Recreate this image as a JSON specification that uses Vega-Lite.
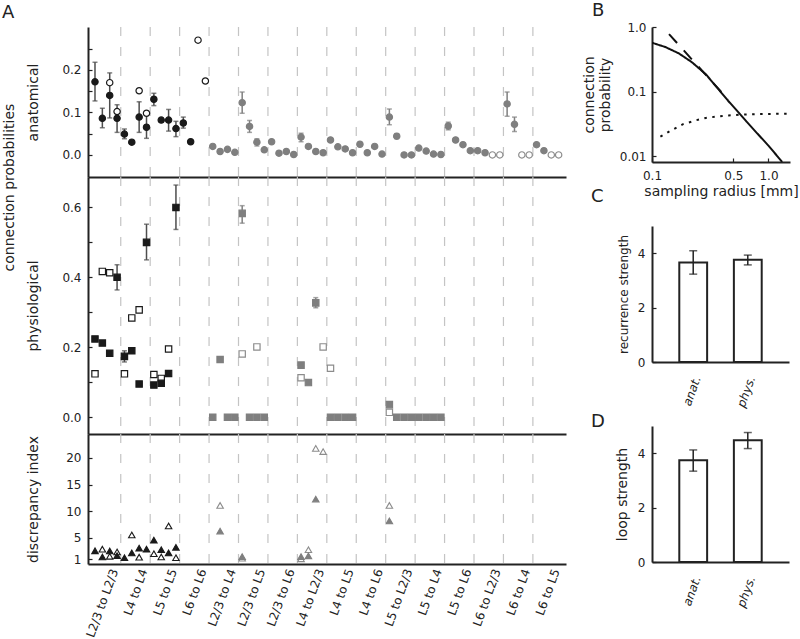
{
  "$schema": "https://vega.github.io/schema/vega-lite/v6.json",
  "background": "white",
  "padding": {"left": 2, "top": 2, "right": 0, "bottom": 0},
  "spacing": 16,
  "datasets": {
    "seps": [{"s":3.5},{"s":7.5},{"s":11.5},{"s":15.5},{"s":19.5},{"s":23.5},{"s":27.5},{"s":31.5},{"s":35.5},{"s":39.5},{"s":43.5},{"s":47.5},{"s":51.5},{"s":55.5},{"s":59.5}],
    "anat": [
      {"s":2,"v":0.170,"k":"bo"},{"s":3,"v":0.102,"k":"bo"},{"s":6,"v":0.151,"k":"bo"},{"s":7,"v":0.098,"k":"bo"},{"s":14,"v":0.270,"k":"bo"},{"s":15,"v":0.174,"k":"bo"},
      {"s":54,"v":0,"k":"go"},{"s":55,"v":0,"k":"go"},{"s":58,"v":0,"k":"go"},{"s":59,"v":0,"k":"go"},{"s":62,"v":0,"k":"go"},{"s":63,"v":0,"k":"go"},
      {"s":0,"v":0.172,"lo":0.127,"hi":0.218,"k":"bf"},{"s":1,"v":0.086,"lo":0.064,"hi":0.110,"k":"bf"},{"s":2,"v":0.140,"lo":0.087,"hi":0.193,"k":"bf"},{"s":3,"v":0.086,"lo":0.053,"hi":0.118,"k":"bf"},
      {"s":4,"v":0.049,"lo":0.038,"hi":0.061,"k":"bf"},{"s":5,"v":0.030,"k":"bf"},{"s":6,"v":0.089,"lo":0.053,"hi":0.125,"k":"bf"},{"s":7,"v":0.065,"lo":0.039,"hi":0.097,"k":"bf"},
      {"s":8,"v":0.131,"lo":0.116,"hi":0.145,"k":"bf"},{"s":9,"v":0.082,"lo":0.077,"hi":0.087,"k":"bf"},{"s":10,"v":0.082,"lo":0.056,"hi":0.107,"k":"bf"},{"s":11,"v":0.062,"lo":0.043,"hi":0.079,"k":"bf"},
      {"s":12,"v":0.075,"lo":0.063,"hi":0.089,"k":"bf"},{"s":13,"v":0.031,"k":"bf"},
      {"s":16,"v":0.020,"k":"gf"},{"s":17,"v":0.008,"k":"gf"},{"s":18,"v":0.013,"k":"gf"},{"s":19,"v":0.006,"k":"gf"},
      {"s":20,"v":0.123,"lo":0.098,"hi":0.148,"k":"gf"},{"s":21,"v":0.067,"lo":0.053,"hi":0.081,"k":"gf"},{"s":22,"v":0.030,"lo":0.021,"hi":0.038,"k":"gf"},{"s":23,"v":0.012,"k":"gf"},
      {"s":24,"v":0.031,"k":"gf"},{"s":25,"v":0.004,"k":"gf"},{"s":26,"v":0.008,"k":"gf"},{"s":27,"v":0.001,"k":"gf"},
      {"s":28,"v":0.042,"lo":0.031,"hi":0.051,"k":"gf"},{"s":29,"v":0.020,"k":"gf"},{"s":30,"v":0.008,"k":"gf"},{"s":31,"v":0.005,"k":"gf"},
      {"s":32,"v":0.035,"k":"gf"},{"s":33,"v":0.019,"k":"gf"},{"s":34,"v":0.014,"k":"gf"},{"s":35,"v":0.005,"k":"gf"},
      {"s":36,"v":0.025,"k":"gf"},{"s":37,"v":0.005,"k":"gf"},{"s":38,"v":0.020,"k":"gf"},{"s":39,"v":0.002,"k":"gf"},
      {"s":40,"v":0.089,"lo":0.071,"hi":0.108,"k":"gf"},{"s":41,"v":0.044,"lo":0.038,"hi":0.050,"k":"gf"},{"s":42,"v":0.000,"k":"gf"},{"s":43,"v":0.000,"k":"gf"},
      {"s":44,"v":0.016,"k":"gf"},{"s":45,"v":0.009,"k":"gf"},{"s":46,"v":0.002,"k":"gf"},{"s":47,"v":0.001,"k":"gf"},
      {"s":48,"v":0.068,"lo":0.059,"hi":0.077,"k":"gf"},{"s":49,"v":0.035,"k":"gf"},{"s":50,"v":0.024,"k":"gf"},{"s":51,"v":0.010,"k":"gf"},
      {"s":52,"v":0.010,"k":"gf"},{"s":53,"v":0.005,"k":"gf"},
      {"s":56,"v":0.120,"lo":0.091,"hi":0.148,"k":"gf"},{"s":57,"v":0.072,"lo":0.055,"hi":0.089,"k":"gf"},
      {"s":60,"v":0.024,"k":"gf"},{"s":61,"v":0.010,"k":"gf"}
    ],
    "phys": [
      {"s":0,"v":0.124,"k":"bo"},{"s":1,"v":0.417,"k":"bo"},{"s":2,"v":0.413,"k":"bo"},{"s":4,"v":0.124,"k":"bo"},{"s":5,"v":0.284,"k":"bo"},{"s":6,"v":0.307,"k":"bo"},{"s":8,"v":0.122,"k":"bo"},{"s":9,"v":0.111,"k":"bo"},{"s":10,"v":0.195,"k":"bo"},
      {"s":20,"v":0.181,"k":"go"},{"s":22,"v":0.201,"k":"go"},{"s":28,"v":0.113,"k":"go"},{"s":31,"v":0.201,"k":"go"},{"s":32,"v":0.140,"k":"go"},{"s":40,"v":0.014,"k":"go"},
      {"s":0,"v":0.224,"k":"bf"},{"s":1,"v":0.212,"k":"bf"},{"s":2,"v":0.183,"k":"bf"},{"s":3,"v":0.400,"lo":0.364,"hi":0.436,"k":"bf"},{"s":4,"v":0.174,"lo":0.158,"hi":0.190,"k":"bf"},{"s":5,"v":0.190,"k":"bf"},
      {"s":6,"v":0.095,"k":"bf"},{"s":7,"v":0.500,"lo":0.450,"hi":0.552,"k":"bf"},{"s":8,"v":0.092,"k":"bf"},{"s":9,"v":0.097,"k":"bf"},{"s":10,"v":0.125,"k":"bf"},{"s":11,"v":0.600,"lo":0.537,"hi":0.664,"k":"bf"},
      {"s":16,"v":0,"k":"gf"},{"s":17,"v":0.165,"k":"gf"},{"s":18,"v":0,"k":"gf"},{"s":19,"v":0,"k":"gf"},{"s":20,"v":0.583,"lo":0.555,"hi":0.605,"k":"gf"},{"s":21,"v":0,"k":"gf"},{"s":22,"v":0,"k":"gf"},{"s":23,"v":0,"k":"gf"},
      {"s":28,"v":0.149,"k":"gf"},{"s":29,"v":0.099,"k":"gf"},{"s":30,"v":0.327,"lo":0.313,"hi":0.342,"k":"gf"},{"s":32,"v":0,"k":"gf"},{"s":33,"v":0,"k":"gf"},{"s":34,"v":0,"k":"gf"},{"s":35,"v":0,"k":"gf"},
      {"s":40,"v":0.036,"k":"gf"},{"s":41,"v":0,"k":"gf"},{"s":42,"v":0,"k":"gf"},{"s":43,"v":0,"k":"gf"},{"s":44,"v":0,"k":"gf"},{"s":45,"v":0,"k":"gf"},{"s":46,"v":0,"k":"gf"},{"s":47,"v":0,"k":"gf"}
    ],
    "disc": [
      {"s":1,"v":2.9,"k":"bo"},{"s":2,"v":1.56,"k":"bo"},{"s":3,"v":2.37,"k":"bo"},{"s":5,"v":5.56,"k":"bo"},{"s":6,"v":1.4,"k":"bo"},{"s":8,"v":2.05,"k":"bo"},{"s":9,"v":1.43,"k":"bo"},{"s":10,"v":7.25,"k":"bo"},{"s":11,"v":1.3,"k":"bo"},
      {"s":17,"v":11.1,"k":"go"},{"s":20,"v":1.2,"k":"go"},{"s":28,"v":1.1,"k":"go"},{"s":29,"v":2.8,"k":"go"},{"s":30,"v":21.8,"k":"go"},{"s":31,"v":21.2,"k":"go"},{"s":40,"v":11.1,"k":"go"},
      {"s":0,"v":2.6,"k":"bf"},{"s":1,"v":1.43,"k":"bf"},{"s":2,"v":2.56,"k":"bf"},{"s":3,"v":1.68,"k":"bf"},{"s":4,"v":1.3,"k":"bf"},{"s":5,"v":2.2,"k":"bf"},{"s":6,"v":3.1,"k":"bf"},{"s":7,"v":2.9,"k":"bf"},{"s":8,"v":4.6,"k":"bf"},{"s":9,"v":2.8,"k":"bf"},{"s":10,"v":2.2,"k":"bf"},{"s":11,"v":3.25,"k":"bf"},
      {"s":17,"v":6.3,"k":"gf"},{"s":20,"v":1.5,"k":"gf"},{"s":28,"v":1.5,"k":"gf"},{"s":29,"v":1.65,"k":"gf"},{"s":30,"v":12.3,"k":"gf"},{"s":40,"v":8.2,"k":"gf"}
    ],
    "curves": [
      {"kind":"solid","r":0.10,"p":0.57},{"kind":"solid","r":0.13,"p":0.49},{"kind":"solid","r":0.17,"p":0.39},{"kind":"solid","r":0.22,"p":0.285},{"kind":"solid","r":0.29,"p":0.185},{"kind":"solid","r":0.37,"p":0.11},{"kind":"solid","r":0.45,"p":0.072},{"kind":"solid","r":0.55,"p":0.048},{"kind":"solid","r":0.65,"p":0.034},{"kind":"solid","r":0.8,"p":0.0225},{"kind":"solid","r":1.0,"p":0.0145},{"kind":"solid","r":1.2,"p":0.0098},{"kind":"solid","r":1.31,"p":0.0081},
      {"kind":"dashed","r":0.14,"p":0.776},{"kind":"dashed","r":0.45,"p":0.075},
      {"kind":"dotted","r":0.118,"p":0.020},{"kind":"dotted","r":0.14,"p":0.024},{"kind":"dotted","r":0.183,"p":0.031},{"kind":"dotted","r":0.24,"p":0.036},{"kind":"dotted","r":0.29,"p":0.039},{"kind":"dotted","r":0.36,"p":0.041},{"kind":"dotted","r":0.455,"p":0.0426},{"kind":"dotted","r":0.6,"p":0.044},{"kind":"dotted","r":0.77,"p":0.0447},{"kind":"dotted","r":1.0,"p":0.045},{"kind":"dotted","r":1.5,"p":0.0453}
    ],
    "bars": [
      {"p":"C","g":"anat.","v":3.66,"lo":3.23,"hi":4.09},{"p":"C","g":"phys.","v":3.76,"lo":3.57,"hi":3.93},
      {"p":"D","g":"anat.","v":3.74,"lo":3.34,"hi":4.12},{"p":"D","g":"phys.","v":4.48,"lo":4.17,"hi":4.76}
    ]
  },
  "hconcat": [
    {
      "vconcat": [
        {
          "width": 478, "height": 150,
          "title": {"text": "A", "anchor": "start", "frame": "group", "dx": -86, "baseline": "alphabetic", "offset": -10},
          "encoding": {"x": {"field": "s", "type": "quantitative", "scale": {"domain": [-0.95, 64], "nice": false, "zero": false}, "axis": {"labels": false, "ticks": false, "title": null}}},
          "layer": [
            {"data": {"name": "seps"}, "mark": {"type": "rule", "color": "#c4c4c4", "strokeDash": [9, 11], "strokeWidth": 1.2}, "encoding": {}},
            {"data": {"name": "anat"}, "transform": [{"filter": "isValid(datum.lo)"}],
             "mark": {"type": "errorbar", "ticks": {"size": 5}, "thickness": 1.5},
             "encoding": {
               "y": {"field": "lo", "type": "quantitative", "scale": {"domain": [-0.052, 0.301], "nice": false, "zero": false}, "axis": {"values": [0, 0.05, 0.1, 0.15, 0.2, 0.25], "labelExpr": "round(datum.value*100)%10==0 ? format(datum.value,'.1f') : ''", "title": "anatomical", "titleX": -48, "titleBaseline": "bottom", "tickSize": -4, "labelPadding": 11}},
               "y2": {"field": "hi"},
               "color": {"field": "k", "type": "nominal", "scale": {"domain": ["bf", "gf"], "range": ["#4d4d4d", "#7f7f7f"]}, "legend": null}
             }},
            {"data": {"name": "anat"},
             "mark": {"type": "point", "shape": "circle", "filled": true, "size": 40, "strokeWidth": 1.2, "opacity": 1},
             "encoding": {
               "y": {"field": "v", "type": "quantitative", "scale": {"domain": [-0.052, 0.301], "nice": false, "zero": false}, "axis": {"values": [0, 0.05, 0.1, 0.15, 0.2, 0.25], "labelExpr": "round(datum.value*100)%10==0 ? format(datum.value,'.1f') : ''", "title": "anatomical", "titleX": -48, "titleBaseline": "bottom", "tickSize": -4, "labelPadding": 11}},
               "fill": {"field": "k", "type": "nominal", "scale": {"domain": ["bf", "bo", "gf", "go"], "range": ["#1a1a1a", "#ffffff", "#7f7f7f", "#ffffff"]}, "legend": null},
               "stroke": {"field": "k", "type": "nominal", "scale": {"domain": ["bf", "bo", "gf", "go"], "range": ["#1a1a1a", "#1a1a1a", "#7f7f7f", "#8c8c8c"]}, "legend": null}
             }}
          ]
        },
        {
          "width": 478, "height": 257,
          "title": {"text": "connection probabilities", "orient": "left", "anchor": "middle", "offset": 9, "dx": 118, "fontSize": 14},
          "encoding": {"x": {"field": "s", "type": "quantitative", "scale": {"domain": [-0.95, 64], "nice": false, "zero": false}, "axis": {"labels": false, "ticks": false, "title": null}}},
          "layer": [
            {"data": {"name": "seps"}, "mark": {"type": "rule", "color": "#c4c4c4", "strokeDash": [9, 11], "strokeWidth": 1.2}, "encoding": {}},
            {"data": {"name": "phys"}, "transform": [{"filter": "isValid(datum.lo)"}],
             "mark": {"type": "errorbar", "ticks": {"size": 5}, "thickness": 1.5},
             "encoding": {
               "y": {"field": "lo", "type": "quantitative", "scale": {"domain": [-0.048, 0.687], "nice": false, "zero": false}, "axis": {"values": [0, 0.1, 0.2, 0.3, 0.4, 0.5, 0.6], "labelExpr": "round(datum.value*10)%2==0 ? format(datum.value,'.1f') : ''", "title": "physiological", "titleX": -48, "titleBaseline": "bottom", "tickSize": -4, "labelPadding": 11}},
               "y2": {"field": "hi"},
               "color": {"field": "k", "type": "nominal", "scale": {"domain": ["bf", "gf"], "range": ["#4d4d4d", "#7f7f7f"]}, "legend": null}
             }},
            {"data": {"name": "phys"},
             "mark": {"type": "point", "shape": "square", "filled": true, "size": 40, "strokeWidth": 1.2, "opacity": 1},
             "encoding": {
               "y": {"field": "v", "type": "quantitative", "scale": {"domain": [-0.048, 0.687], "nice": false, "zero": false}, "axis": {"values": [0, 0.1, 0.2, 0.3, 0.4, 0.5, 0.6], "labelExpr": "round(datum.value*10)%2==0 ? format(datum.value,'.1f') : ''", "title": "physiological", "titleX": -48, "titleBaseline": "bottom", "tickSize": -4, "labelPadding": 11}},
               "fill": {"field": "k", "type": "nominal", "scale": {"domain": ["bf", "bo", "gf", "go"], "range": ["#1a1a1a", "#ffffff", "#7f7f7f", "#ffffff"]}, "legend": null},
               "stroke": {"field": "k", "type": "nominal", "scale": {"domain": ["bf", "bo", "gf", "go"], "range": ["#1a1a1a", "#1a1a1a", "#7f7f7f", "#8c8c8c"]}, "legend": null}
             }}
          ]
        },
        {
          "width": 478, "height": 130,
          "encoding": {"x": {"field": "s", "type": "quantitative", "scale": {"domain": [-0.95, 64], "nice": false, "zero": false},
            "axis": {"values": [1.5, 5.5, 9.5, 13.5, 17.5, 21.5, 25.5, 29.5, 33.5, 37.5, 41.5, 45.5, 49.5, 53.5, 57.5, 61.5], "labelExpr": "['L2/3 to L2/3','L4 to L4','L5 to L5','L6 to L6','L2/3 to L4','L2/3 to L5','L2/3 to L6','L4 to L2/3','L4 to L5','L4 to L6','L5 to L2/3','L5 to L4','L5 to L6','L6 to L2/3','L6 to L4','L6 to L5'][round((datum.value-1.5)/4)]", "labelAngle": -70, "labelAlign": "right", "labelBaseline": "middle", "labelOffset": 8, "labelPadding": 5, "ticks": false, "title": null, "labelLimit": 0}}},
          "layer": [
            {"data": {"name": "seps"}, "mark": {"type": "rule", "color": "#c4c4c4", "strokeDash": [9, 11], "strokeWidth": 1.2}, "encoding": {}},
            {"data": {"name": "disc"},
             "mark": {"type": "point", "shape": "triangle-up", "filled": true, "size": 42, "strokeWidth": 1.1, "opacity": 1},
             "encoding": {
               "y": {"field": "v", "type": "quantitative", "scale": {"domain": [0.12, 24.5], "nice": false, "zero": false}, "axis": {"values": [1, 5, 10, 15, 20], "format": "d", "title": "discrepancy index", "titleX": -48, "titleBaseline": "bottom", "tickSize": -4, "labelPadding": 11}},
               "fill": {"field": "k", "type": "nominal", "scale": {"domain": ["bf", "bo", "gf", "go"], "range": ["#1a1a1a", "#ffffff", "#7f7f7f", "#ffffff"]}, "legend": null},
               "stroke": {"field": "k", "type": "nominal", "scale": {"domain": ["bf", "bo", "gf", "go"], "range": ["#1a1a1a", "#1a1a1a", "#7f7f7f", "#8c8c8c"]}, "legend": null}
             }}
          ]
        }
      ],
      "spacing": 0,
      "bounds": "flush"
    },
    {
      "vconcat": [
        {
          "width": 138, "height": 135,
          "title": {"text": "B", "anchor": "start", "frame": "group", "dx": -60, "baseline": "alphabetic", "offset": -13},
          "data": {"name": "curves"},
          "mark": {"type": "line", "color": "#111111", "strokeWidth": 2, "clip": true},
          "encoding": {
            "x": {"field": "r", "type": "quantitative", "scale": {"type": "log", "domain": [0.1, 1.53], "nice": false}, "axis": {"values": [0.1, 0.5, 1], "labelExpr": "datum.value==1 ? '1.0' : format(datum.value,'.1f')", "title": "sampling radius [mm]", "tickSize": -4, "labelPadding": 12, "titlePadding": 3}},
            "y": {"field": "p", "type": "quantitative", "scale": {"type": "log", "domain": [0.0081, 1], "nice": false}, "axis": {"values": [0.01, 0.1, 1], "labelExpr": "datum.value==1 ? '1.0' : (datum.value==0.1 ? '0.1' : '0.01')", "title": ["connection", "probability"], "titleX": -56, "titleBaseline": "bottom", "titleLineHeight": 16, "tickSize": -4, "labelPadding": 10}},
            "strokeDash": {"field": "kind", "type": "nominal", "scale": {"domain": ["solid", "dashed", "dotted"], "range": [[1, 0], [12, 10], [2.5, 5.5]]}, "legend": null}
          }
        },
        {
          "width": 137, "height": 136,
          "title": {"text": "C", "anchor": "start", "frame": "group", "dx": -61, "baseline": "alphabetic", "offset": 6},
          "data": {"name": "bars"},
          "transform": [{"filter": "datum.p=='C'"}],
          "encoding": {"x": {"field": "g", "type": "nominal", "sort": ["anat.", "phys."], "scale": {"paddingInner": 0.49, "paddingOuter": 0.5}, "axis": {"labelAngle": -70, "labelAlign": "right", "labelBaseline": "middle", "labelFontStyle": "italic", "labelOffset": 4, "labelPadding": 18, "tickSize": -4, "title": null}}},
          "layer": [
            {"mark": {"type": "bar", "fill": "white", "stroke": "#222222", "strokeWidth": 2},
             "encoding": {"y": {"field": "v", "type": "quantitative", "scale": {"domain": [0, 5], "nice": false}, "axis": {"values": [0, 2, 4], "title": "recurrence strength", "titleFontSize": 12, "titleX": -22, "titleBaseline": "bottom", "tickSize": -4, "labelPadding": 11}}}},
            {"mark": {"type": "errorbar", "ticks": {"size": 8}, "thickness": 1.5, "color": "#222222"},
             "encoding": {"y": {"field": "lo", "type": "quantitative", "scale": {"domain": [0, 5], "nice": false}, "axis": {"values": [0, 2, 4], "title": "recurrence strength", "titleFontSize": 12, "titleX": -22, "titleBaseline": "bottom", "tickSize": -4, "labelPadding": 11}}, "y2": {"field": "hi"}}}
          ]
        },
        {
          "width": 137, "height": 136,
          "title": {"text": "D", "anchor": "start", "frame": "group", "dx": -61, "baseline": "alphabetic", "offset": -19},
          "data": {"name": "bars"},
          "transform": [{"filter": "datum.p=='D'"}],
          "encoding": {"x": {"field": "g", "type": "nominal", "sort": ["anat.", "phys."], "scale": {"paddingInner": 0.49, "paddingOuter": 0.5}, "axis": {"labelAngle": -70, "labelAlign": "right", "labelBaseline": "middle", "labelFontStyle": "italic", "labelOffset": 4, "labelPadding": 18, "tickSize": -4, "title": null}}},
          "layer": [
            {"mark": {"type": "bar", "fill": "white", "stroke": "#222222", "strokeWidth": 2},
             "encoding": {"y": {"field": "v", "type": "quantitative", "scale": {"domain": [0, 5], "nice": false}, "axis": {"values": [0, 2, 4], "title": "loop strength", "titleFontSize": 14, "titleX": -23, "titleBaseline": "bottom", "tickSize": -4, "labelPadding": 11}}}},
            {"mark": {"type": "errorbar", "ticks": {"size": 8}, "thickness": 1.5, "color": "#222222"},
             "encoding": {"y": {"field": "lo", "type": "quantitative", "scale": {"domain": [0, 5], "nice": false}, "axis": {"values": [0, 2, 4], "title": "loop strength", "titleFontSize": 14, "titleX": -23, "titleBaseline": "bottom", "tickSize": -4, "labelPadding": 11}}, "y2": {"field": "hi"}}}
          ]
        }
      ],
      "spacing": 64,
      "bounds": "flush"
    }
  ],
  "config": {
    "font": "DejaVu Sans",
    "view": {"stroke": null},
    "axis": {"domainColor": "#222222", "domainWidth": 2, "tickColor": "#222222", "tickWidth": 1.2, "labelColor": "#222222", "titleColor": "#222222", "labelFontSize": 12, "titleFontSize": 14, "titleFontWeight": "normal", "grid": false, "labelFont": "DejaVu Sans", "titleFont": "DejaVu Sans", "labelFlush": false, "labelOverlap": false, "labelBound": false},
    "title": {"font": "DejaVu Sans", "fontWeight": "normal", "fontSize": 18, "color": "#222222"}
  }
}
